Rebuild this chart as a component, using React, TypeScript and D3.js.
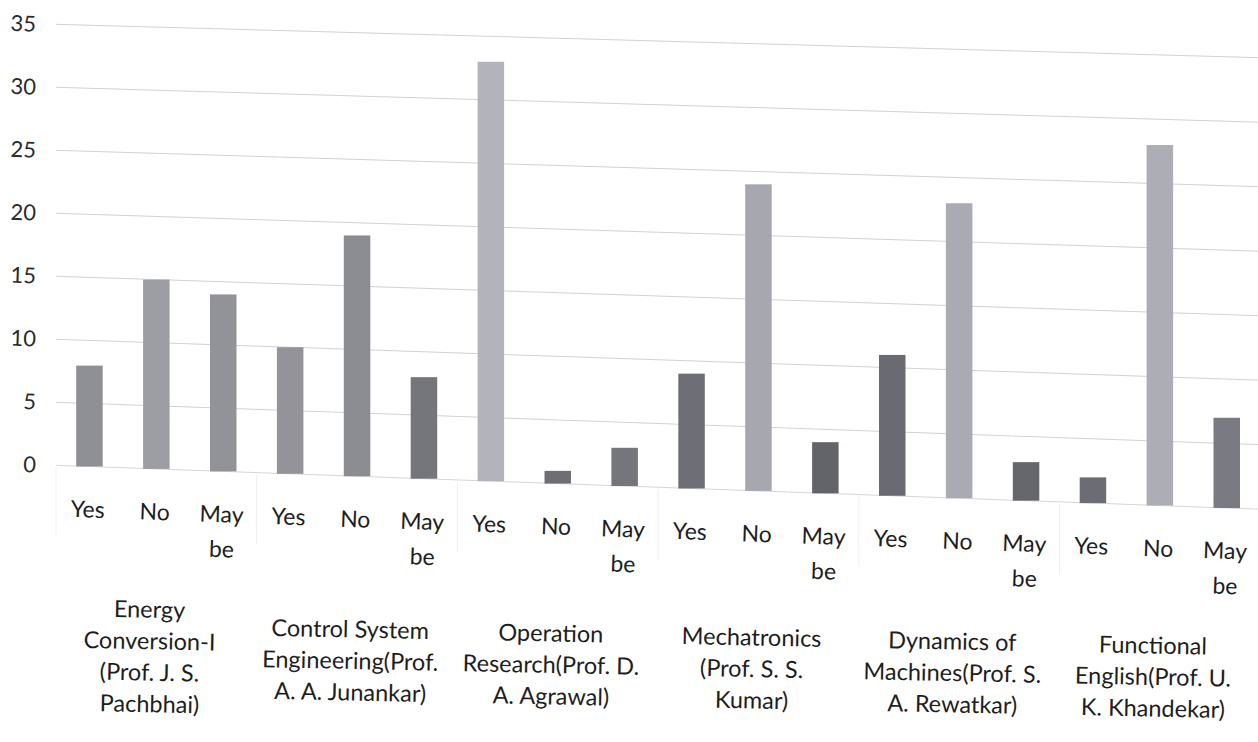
import React from "react";
import * as d3 from "d3";

// ---------- data ----------
const categories = [
  "Energy\nConversion-I\n(Prof. J. S.\nPachbhai)",
  "Control System\nEngineering(Prof.\nA. A. Junankar)",
  "Operation\nResearch(Prof. D.\nA. Agrawal)",
  "Mechatronics\n(Prof. S. S.\nKumar)",
  "Dynamics of\nMachines(Prof. S.\nA. Rewatkar)",
  "Functional\nEnglish(Prof. U.\nK. Khandekar)",
];
const responses = ["Yes", "No", "May\nbe"];
const yesValues = [8, 10, 33, 9, 11, 2];
const noValues = [15, 19, 1, 24, 23, 28];
const maybeValues = [14, 8, 3, 4, 3, 7];
const yTicks = [0, 5, 10, 15, 20, 25, 30, 35];

// ---------- styles ----------
const barShades = [
  ["#8f8f96", "#9d9da4", "#929299"],
  ["#939399", "#8c8c93", "#75757c"],
  ["#b3b3bc", "#6e6e75", "#75757c"],
  ["#6e6e76", "#a7a7b0", "#63636a"],
  ["#6a6a72", "#aaaab3", "#66666d"],
  ["#6c6c74", "#adadb6", "#7a7a82"],
];
const FONT = "Lato, 'Open Sans', sans-serif";
const W = 1258;
const H = 742;

export default function App() {
  const series = [yesValues, noValues, maybeValues];

  const xGroup = d3
    .scaleBand<string>()
    .domain(categories)
    .range([56, 56 + 18 * 66.9])
    .padding(0);
  const xSub = d3
    .scaleBand<string>()
    .domain(responses)
    .range([0, xGroup.bandwidth()])
    .paddingInner(0.604)
    .paddingOuter(0.302);

  // photographed page: baseline and unit size drift slightly with x
  const baseline = d3.scaleLinear().domain([89.5, 1227]).range([466.5, 508]);
  const unit = d3.scaleLinear().domain([260, 1100]).range([12.65, 12.86]);
  const yAt = (x: number, v: number) => baseline(x) - v * unit(x);
  const slopeDeg = (Math.atan((508 - 466.5) / (1227 - 89.5)) * 180) / Math.PI;
  // vertical centre of the category-label blocks (drifts less than baseline)
  const labelCenter = d3.scaleLinear().domain([151, 1150]).range([657, 677]);
  const labelDeg = (Math.atan(20 / 999) * 180) / Math.PI;

  const gridX0 = 56;
  const gridX1 = W + 10;

  return (
    <svg
      width={W}
      height={H}
      style={{ position: "absolute", left: 0, top: 0, background: "#fff" }}
      fontFamily={FONT}
    >
      <rect width={W} height={H} fill="#ffffff" />
      {/* gridlines */}
      {yTicks.map((t) => (
        <line
          key={"g" + t}
          x1={gridX0}
          x2={gridX1}
          y1={yAt(gridX0, t)}
          y2={yAt(gridX1, t)}
          stroke={t === 0 ? "#d6d6d6" : "#d2d2d2"}
          strokeWidth={1}
        />
      ))}
      {/* y tick labels */}
      {yTicks.map((t) => {
        const x = 36;
        const y = yAt(x, t);
        return (
          <text
            key={"yl" + t}
            x={x}
            y={y}
            dy="0.36em"
            textAnchor="end"
            fontSize={22}
            fill="#2a2a2a"
            transform={`rotate(${slopeDeg}, ${x}, ${y})`}
          >
            {t}
          </text>
        );
      })}
      {/* group separators */}
      {[...categories, "__end"].map((c, i) => {
        const x =
          i < categories.length
            ? (xGroup(c) as number)
            : (xGroup(categories[categories.length - 1]) as number) + xGroup.bandwidth();
        return (
          <line
            key={"sep" + i}
            x1={x}
            x2={x}
            y1={baseline(x) + 2}
            y2={baseline(x) + 72}
            stroke="#efefef"
            strokeWidth={1}
          />
        );
      })}
      {/* bars */}
      {categories.map((c, gi) =>
        responses.map((r, si) => {
          const v = series[si][gi];
          const x = (xGroup(c) as number) + (xSub(r) as number);
          const w = xSub.bandwidth();
          const cx = x + w / 2;
          const y = yAt(cx, v);
          const h = baseline(cx) - y;
          return (
            <rect
              key={"b" + gi + "-" + si}
              x={x}
              y={y}
              width={w}
              height={h}
              fill={barShades[gi][si]}
            />
          );
        })
      )}
      {/* response labels */}
      {categories.map((c, gi) =>
        responses.map((r, si) => {
          const x = (xGroup(c) as number) + (xSub(r) as number) + xSub.bandwidth() / 2 - 2;
          const b = baseline(x);
          const lines = r.split("\n");
          return lines.map((ln, li) => {
            const y = b + 51 + li * 35;
            return (
              <text
                key={"r" + gi + "-" + si + "-" + li}
                x={x}
                y={y}
                textAnchor="middle"
                fontSize={23}
                fill="#1e1e1e"
                transform={`rotate(${slopeDeg}, ${x}, ${y})`}
              >
                {ln}
              </text>
            );
          });
        })
      )}
      {/* category labels */}
      {categories.map((c, gi) => {
        const x = (xGroup(c) as number) + xGroup.bandwidth() / 2 - 7;
        const mid = labelCenter(x);
        const lines = c.split("\n");
        const n = lines.length;
        return lines.map((ln, li) => {
          const y = mid + 8 + (li - (n - 1) / 2) * 31.5;
          return (
            <text
              key={"c" + gi + "-" + li}
              x={x}
              y={y}
              textAnchor="middle"
              fontSize={23.5}
              fill="#1e1e1e"
              transform={`rotate(${labelDeg}, ${x}, ${y})`}
            >
              {ln}
            </text>
          );
        });
      })}
    </svg>
  );
}
